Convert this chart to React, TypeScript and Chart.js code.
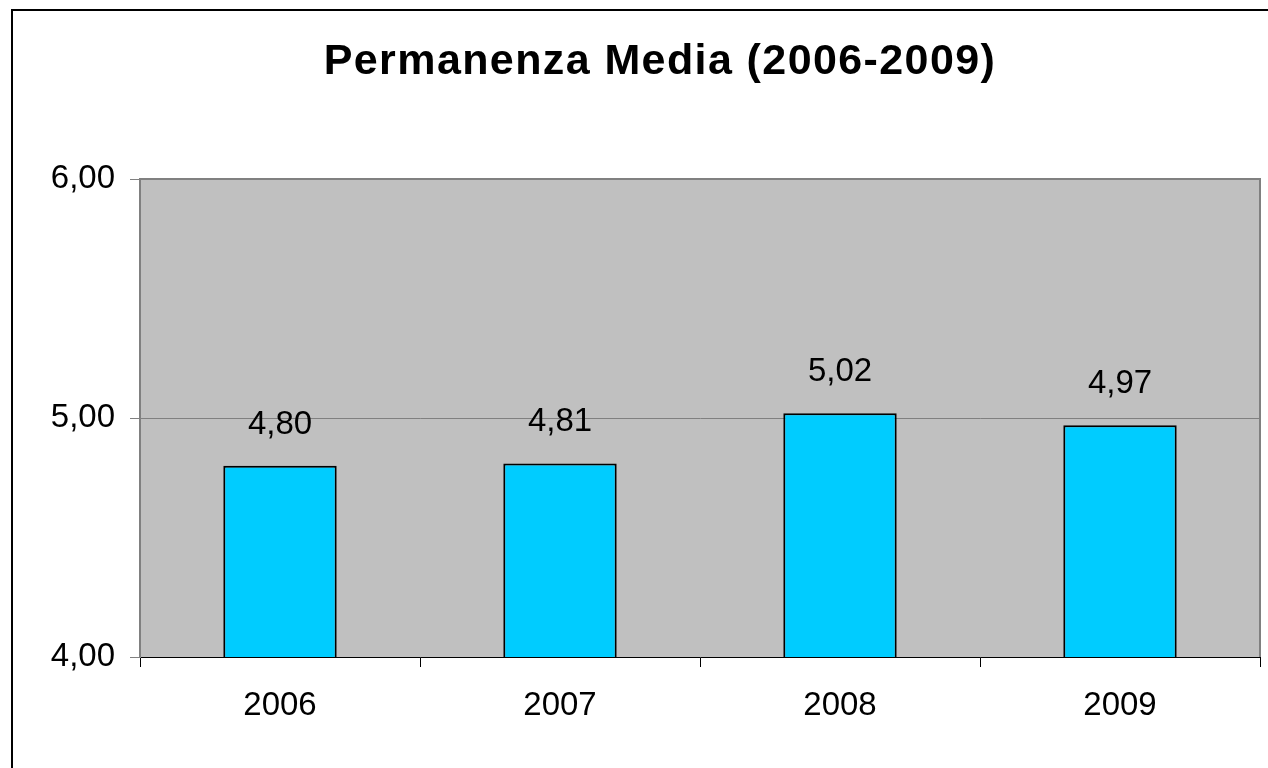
import React, { useEffect, useRef } from "react";
import { Chart, registerables } from "chart.js";

Chart.register(...registerables);

const categories: string[] = ["2006", "2007", "2008", "2009"];
const values: number[] = [4.8, 4.81, 5.02, 4.97];
const yMin = 4;
const yMax = 6;
const yStep = 1;
const titleText = "Permanenza Media (2006-2009)";

const FONT = "'Liberation Sans', Arial, sans-serif";
const fmt = (v: number) => v.toFixed(2).replace(".", ",");

const framePlugin = {
  id: "framePlugin",
  beforeDraw(chart: any) {
    const { ctx, chartArea } = chart;
    ctx.save();
    ctx.fillStyle = "#ffffff";
    ctx.fillRect(0, 0, chart.width, chart.height);
    ctx.strokeStyle = "#000000";
    ctx.lineWidth = 2;
    ctx.beginPath();
    ctx.moveTo(12, chart.height + 10);
    ctx.lineTo(12, 10);
    ctx.lineTo(chart.width + 10, 10);
    ctx.stroke();
    ctx.fillStyle = "#C0C0C0";
    ctx.fillRect(chartArea.left, chartArea.top, chartArea.right - chartArea.left, chartArea.bottom - chartArea.top);
    // title
    ctx.fillStyle = "#000000";
    ctx.font = `bold 43px ${FONT}`;
    (ctx as any).letterSpacing = "1.4px";
    ctx.textAlign = "center";
    ctx.textBaseline = "alphabetic";
    ctx.fillText(titleText, 660, 74);
    ctx.restore();
  },
  afterDatasetsDraw(chart: any) {
    const { ctx, chartArea } = chart;
    ctx.save();
    ctx.strokeStyle = "#808080";
    ctx.lineWidth = 2;
    ctx.beginPath();
    ctx.moveTo(chartArea.left, chartArea.top);
    ctx.lineTo(chartArea.right, chartArea.top);
    ctx.lineTo(chartArea.right, chartArea.bottom);
    ctx.stroke();
    const meta = chart.getDatasetMeta(0);
    ctx.fillStyle = "#000000";
    ctx.font = `33px ${FONT}`;
    ctx.textAlign = "center";
    ctx.textBaseline = "alphabetic";
    meta.data.forEach((el: any, i: number) => {
      ctx.fillText(fmt(values[i]), el.x, el.y - 32);
    });
    ctx.restore();
  },
};

export default function App() {
  const ref = useRef<HTMLCanvasElement | null>(null);
  useEffect(() => {
    if (!ref.current) return;
    const chart = new Chart(ref.current, {
      type: "bar",
      data: {
        labels: categories,
        datasets: [
          {
            data: values,
            backgroundColor: "#00CCFF",
            borderColor: "#000000",
            borderWidth: 2,
            barPercentage: 0.405,
            categoryPercentage: 1,
          },
        ],
      },
      options: {
        responsive: false,
        animation: false,
        devicePixelRatio: 1,
        layout: { padding: { top: 179, left: 0, right: 8, bottom: 0 } },
        plugins: {
          legend: { display: false },
          tooltip: { enabled: false },
          title: { display: false },
        },
        scales: {
          x: {
            grid: {
              drawOnChartArea: false,
              tickLength: 10,
              color: "#000000",
              offset: true,
            },
            border: { display: true, color: "#000000", width: 1 },
            ticks: {
              color: "#000000",
              font: { family: FONT, size: 33 },
              padding: 19,
            },
            afterFit(scale: any) {
              scale.height = 111;
            },
          },
          y: {
            min: yMin,
            max: yMax,
            grid: { color: "#808080", tickLength: 10, lineWidth: 1 },
            border: { display: true, color: "#808080", width: 2 },
            ticks: {
              stepSize: yStep,
              color: "#000000",
              font: { family: FONT, size: 33 },
              padding: 15,
              callback: (v: any) => fmt(Number(v)),
            },
            afterFit(scale: any) {
              scale.width = 140;
            },
          },
        },
      },
      plugins: [framePlugin],
    });
    return () => chart.destroy();
  }, []);
  return (
    <div style={{ position: "fixed", left: 0, top: 0, width: 1268, height: 768 }}>
      <canvas ref={ref} width={1268} height={768} />
    </div>
  );
}
